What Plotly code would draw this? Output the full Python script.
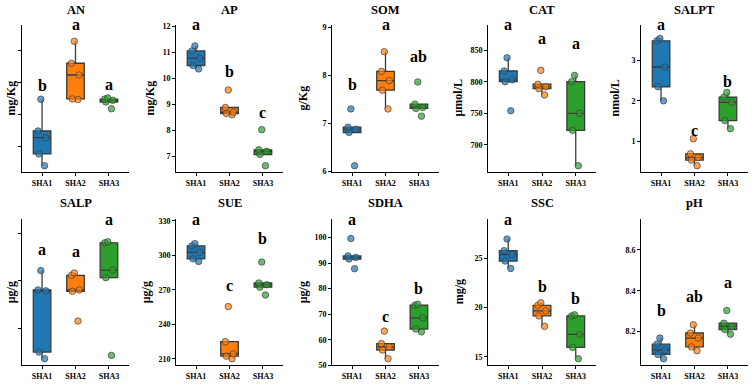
import plotly.graph_objects as go

W, H = 754, 387

groups = ["SHA1", "SHA2", "SHA3"]
colors = ["#1f77b4", "#ff7f0e", "#2ca02c"]
point_colors = ["rgba(31,119,180,0.7)", "rgba(255,127,14,0.7)", "rgba(44,160,44,0.7)"]

panels = ["AN", "AP", "SOM", "CAT", "SALPT", "SALP", "SUE", "SDHA", "SSC", "pH"]
units = ["mg/Kg", "mg/Kg", "g/Kg", "μmol/L", "nmol/L", "μg/g", "μg/g", "μg/g", "mg/g", ""]

# values per group (SHA1, SHA2, SHA3)
AN = [[44.8, 34.8, 32.7, 27.6, 23.9],
      [63.0, 56.1, 52.4, 44.9, 44.7],
      [45.2, 44.85, 44.45, 43.9, 41.8]]
AP = [[11.24, 11.05, 10.77, 10.49, 10.36],
      [9.55, 8.88, 8.70, 8.65, 8.60],
      [8.03, 7.26, 7.20, 7.08, 6.65]]
SOM = [[7.30, 6.92, 6.88, 6.81, 6.12],
       [8.49, 8.08, 7.89, 7.69, 7.30],
       [7.86, 7.40, 7.33, 7.31, 7.15]]
CAT = [[838, 817, 803, 800, 754],
       [818, 796, 792, 789, 779],
       [810, 800, 750, 723, 667]]
SALPT = [[3.55, 3.49, 2.84, 2.35, 2.00],
         [1.06, 0.685, 0.59, 0.53, 0.39],
         [2.21, 2.09, 1.96, 1.51, 1.31]]
SALP = [[6.22, 5.81, 5.79, 4.49, 4.35],
        [6.17, 6.12, 5.81, 5.78, 5.15],
        [6.83, 6.81, 6.23, 6.07, 4.42]]
SUE = [[310.2, 308.2, 302.6, 297.0, 294.7],
       [255.5, 225.0, 214.4, 212.4, 210.2],
       [294.2, 276.0, 274.5, 272.4, 265.6]]
SDHA = [[99.6, 92.8, 92.2, 91.6, 87.8],
        [63.4, 58.5, 57.2, 56.0, 52.6],
        [73.9, 73.5, 68.6, 64.2, 63.1]]
SSC = [[26.97, 25.79, 25.39, 24.73, 23.98],
       [20.49, 20.23, 19.67, 19.15, 18.09],
       [19.27, 19.15, 17.27, 15.95, 14.80]]
PH = [[8.168, 8.138, 8.110, 8.088, 8.067],
      [8.233, 8.193, 8.168, 8.125, 8.106],
      [8.303, 8.241, 8.225, 8.210, 8.187]]

letters = [["b", "a", "a"], ["a", "b", "c"], ["b", "a", "ab"], ["a", "a", "a"], ["a", "c", "b"],
           ["a", "a", "a"], ["a", "c", "b"], ["a", "c", "b"], ["a", "b", "b"], ["b", "ab", "a"]]

data = [AN, AP, SOM, CAT, SALPT, SALP, SUE, SDHA, SSC, PH]
dticks = [10, 1, 1, 50, 1, 1, 30, 10, 5, 0.2]
show_labels = [False, True, True, True, True, False, True, True, True, True]
title_offsets = [11, 26, 29, 30, 26, 11, 30, 29, 29, 0]
label_raise = {"pH": 0.105}  # pH letters sit a fixed step above the maximum

cols_px = [(22, 129), (176, 283), (332, 439), (488, 596), (641, 748)]
rows_px = [(22, 173), (220.7, 370)]
title_y_px = [7, 204]

FONT = "Liberation Serif, Times New Roman, serif"

fig = go.Figure()
layout = dict(
    width=W, height=H, margin=dict(l=0, r=0, t=0, b=0),
    paper_bgcolor="white", plot_bgcolor="white",
    showlegend=False, boxgap=0.25, boxmode="overlay",
    font=dict(family=FONT, color="black"),
)
annotations = []

for i, name in enumerate(panels):
    r, c = divmod(i, 5)
    ax = "" if i == 0 else str(i + 1)
    l, rr = cols_px[c]
    t, b = rows_px[r]
    vals = data[i]
    maxes = [max(v) for v in vals]
    range_tops = [m * 1.05 for m in maxes]
    if name in label_raise:
        lab_y = [m + label_raise[name] for m in maxes]
    else:
        lab_y = range_tops
    lo = min(min(v) for v in vals)
    hi = max(range_tops)
    span = hi - lo
    yr = [lo - 0.05 * span, hi + 0.05 * span]

    for g in range(3):
        fig.add_trace(go.Box(
            x=[groups[g]] * len(vals[g]), y=vals[g],
            xaxis="x" + ax, yaxis="y" + ax,
            fillcolor=colors[g], line=dict(color="#3a3a3a", width=1.3),
            whiskerwidth=0, quartilemethod="inclusive",
            boxpoints="all", jitter=0.55, pointpos=0,
            marker=dict(size=6.5, color=point_colors[g],
                        line=dict(color="rgba(60,60,60,0.85)", width=0.8)),
            hoverinfo="y",
        ))
        annotations.append(dict(
            x=groups[g], y=lab_y[g], xref="x" + ax, yref="y" + ax,
            text=letters[i][g], showarrow=False, yanchor="bottom", yshift=-4,
            font=dict(family=FONT, size=16, weight="bold", color="black"),
        ))

    layout["xaxis" + ax] = dict(
        domain=[l / W, rr / W], anchor="y" + ax, type="category",
        categoryorder="array", categoryarray=groups, range=[-0.6, 2.6],
        showline=True, linecolor="black", linewidth=1, ticks="outside", ticklen=3,
        tickcolor="black", showgrid=False, zeroline=False,
        tickfont=dict(family=FONT, size=8, weight="bold", color="black"),
    )
    layout["yaxis" + ax] = dict(
        domain=[1 - b / H, 1 - t / H], anchor="x" + ax, range=yr,
        tick0=0, dtick=dticks[i], showticklabels=show_labels[i],
        showline=True, linecolor="black", linewidth=1, ticks="outside", ticklen=3,
        tickcolor="black", showgrid=False, zeroline=False,
        tickfont=dict(family=FONT, size=8, weight="bold", color="black"),
    )
    annotations.append(dict(
        x=(l + rr) / 2 / W, y=1 - title_y_px[r] / H, xref="paper", yref="paper",
        text=name, showarrow=False, xanchor="center", yanchor="middle",
        font=dict(family=FONT, size=12.5, weight="bold", color="black"),
    ))
    if units[i]:
        annotations.append(dict(
            x=(l - title_offsets[i]) / W, y=1 - (t + b) / 2 / H, xref="paper", yref="paper",
            text=units[i], showarrow=False, textangle=-90, xanchor="center", yanchor="middle",
            font=dict(family=FONT, size=12, weight="bold", color="black"),
        ))

layout["annotations"] = annotations
fig.update_layout(**layout)
fig.write_html("out.html")
